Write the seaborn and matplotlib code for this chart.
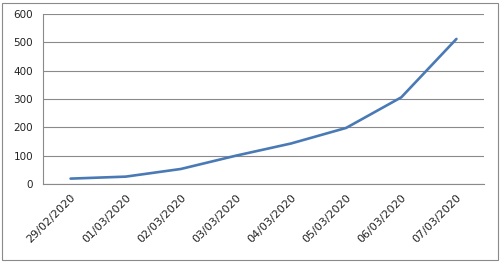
import matplotlib
matplotlib.use("Agg")
import matplotlib.pyplot as plt
import seaborn as sns
import pandas as pd
from matplotlib.patches import Rectangle

dates = ["29/02/2020", "01/03/2020", "02/03/2020", "03/03/2020",
         "04/03/2020", "05/03/2020", "06/03/2020", "07/03/2020"]
values = [19, 26, 53, 100, 143, 198, 306, 512]
y_ticks = [0, 100, 200, 300, 400, 500, 600]

sns.set_style("white")
plt.rcParams['font.family'] = ['DejaVu Sans']

df = pd.DataFrame({"date": dates, "value": values})

fig = plt.figure(figsize=(5.0, 2.62), dpi=100)
ax = fig.add_axes([43/500, 1-184/262, (484-43)/500, (184-14)/262])

sns.lineplot(data=df, x="date", y="value", ax=ax, color="#4a7ab5",
             linewidth=1.9, sort=False)

ax.set_xlim(-0.5, len(dates) - 0.5)
ax.set_ylim(0, 600)
ax.set_yticks(y_ticks)
ax.set_yticklabels([str(v) for v in y_ticks], fontsize=7.5, color="#222222")
ax.grid(axis="y", color="#8a8a8a", linewidth=0.8)
ax.set_axisbelow(True)

ax.set_xticks(range(len(dates)))
ax.set_xticklabels(dates, rotation=45, ha="right", rotation_mode="anchor",
                   fontsize=8, color="#222222")
ax.tick_params(axis="x", length=0, pad=6)
ax.set_xticks([i - 0.5 for i in range(len(dates) + 1)], minor=True)
ax.tick_params(axis="x", which="minor", length=3, width=0.8, color="#8a8a8a", direction="out")
ax.tick_params(axis="y", length=3, width=0.8, color="#8a8a8a", direction="out", pad=4)

ax.set_xlabel("")
ax.set_ylabel("")
for s in ["top", "right"]:
    ax.spines[s].set_visible(False)
for s in ["left", "bottom"]:
    ax.spines[s].set_color("#8a8a8a")
    ax.spines[s].set_linewidth(0.8)

fig.patches.append(Rectangle((2/500, 2/262), 496/500, 257/262, transform=fig.transFigure,
                             fill=False, edgecolor="#8a8a8a", linewidth=0.8))

fig.savefig("out.png", dpi=100)
